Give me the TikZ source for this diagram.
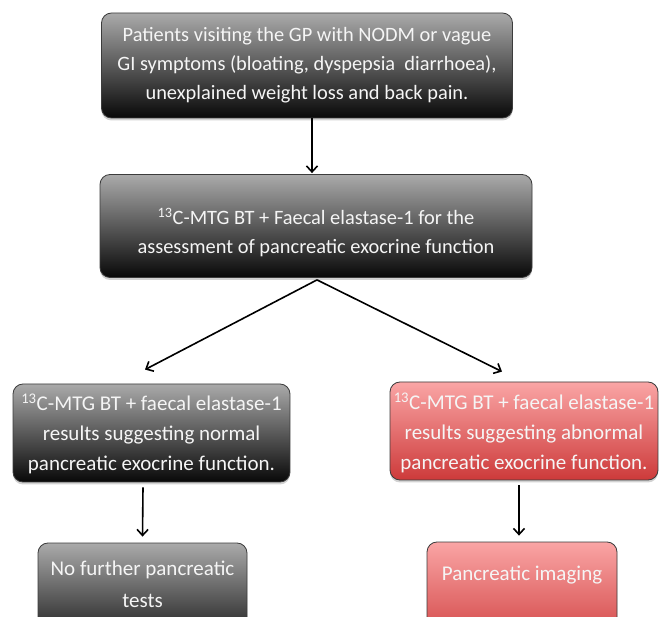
\documentclass[tikz,border=0pt]{standalone}
\usepackage{fontspec}
\setmainfont{Carlito}
\usetikzlibrary{arrows.meta,shadows}
\definecolor{gtop}{RGB}{170,170,170}
\definecolor{gbot}{RGB}{8,8,8}
\definecolor{rtop}{RGB}{250,165,165}
\definecolor{rbot}{RGB}{205,58,58}
\definecolor{edge}{RGB}{60,60,60}
\definecolor{txt}{RGB}{245,245,245}
\tikzset{
  box/.style={draw=edge, line width=0.8pt, rounded corners=10pt, align=center,
    text=txt, inner sep=0pt, font=\fontsize{21}{30}\selectfont,
    drop shadow={shadow xshift=0pt, shadow yshift=-2.5pt, opacity=0.35}},
  graybox/.style={box, top color=gtop, bottom color=gbot},
  redbox/.style={box, top color=rtop, bottom color=rbot},
  lbl/.style={align=center, text=txt, inner sep=0pt, font=\fontsize{21}{32}\selectfont},
  arr/.style={draw=black, line width=1.6pt, -{Straight Barb[length=6pt,width=11pt,line width=1.6pt]}}
}
\begin{document}
\begin{tikzpicture}[x=1pt,y=-1pt]
\useasboundingbox (0,0) rectangle (659,617);
\clip (0,0) rectangle (659,617);
\fill[white] (0,0) rectangle (659,617);
\node[graybox, minimum width=411pt, minimum height=105pt, font=\fontsize{20.4}{29}\selectfont] (b1) at (307,65.5)
  {Patients visiting the GP with NODM or vague\\GI symptoms (bloating, dyspepsia\ \ diarrhoea),\\unexplained weight loss and back pain.};
\node[graybox, minimum width=432pt, minimum height=103pt, font=\fontsize{20.4}{29}\selectfont] (b2) at (316,226)
  {\rule{0pt}{30pt}\textsuperscript{13}C-MTG BT + Faecal elastase-1 for the\\assessment of pancreatic exocrine function};
\node[graybox, minimum width=277pt, minimum height=98pt] (m1) at (151.5,433)
  {\rule{0pt}{19pt}\textsuperscript{13}C-MTG BT + faecal elastase-1\\results suggesting normal\\pancreatic exocrine function.};
\node[redbox, minimum width=268pt, minimum height=98pt] (m2) at (524,431)
  {\rule{0pt}{21pt}\textsuperscript{13}C-MTG BT + faecal elastase-1\\results suggesting abnormal\\pancreatic exocrine function.};
\node[graybox, minimum width=209pt, minimum height=110pt] (n1) at (142.5,598) {};
\node[lbl] (n1t) at (142.5,584) {No further pancreatic\\tests};
\node[redbox, minimum width=190pt, minimum height=110pt] (n2) at (522,597) {};
\node[lbl] (n2t) at (522,575) {Pancreatic imaging};
\draw[arr] ([xshift=5pt]b1.south) -- ([xshift=-4pt,yshift=1pt]b2.north);
\draw[arr] ([xshift=1pt,yshift=-2pt]b2.south) -- ([xshift=-6.5pt,yshift=14pt]m1.north);
\draw[arr] ([xshift=1pt,yshift=-2pt]b2.south) -- ([xshift=-22pt,yshift=10pt]m2.north);
\draw[arr] ([xshift=-8.5pt,yshift=-5pt]m1.south) -- ([yshift=6pt]n1.north);
\draw[arr] ([xshift=-5pt,yshift=-5pt]m2.south) -- ([xshift=-3pt,yshift=6pt]n2.north);
\end{tikzpicture}
\end{document}
